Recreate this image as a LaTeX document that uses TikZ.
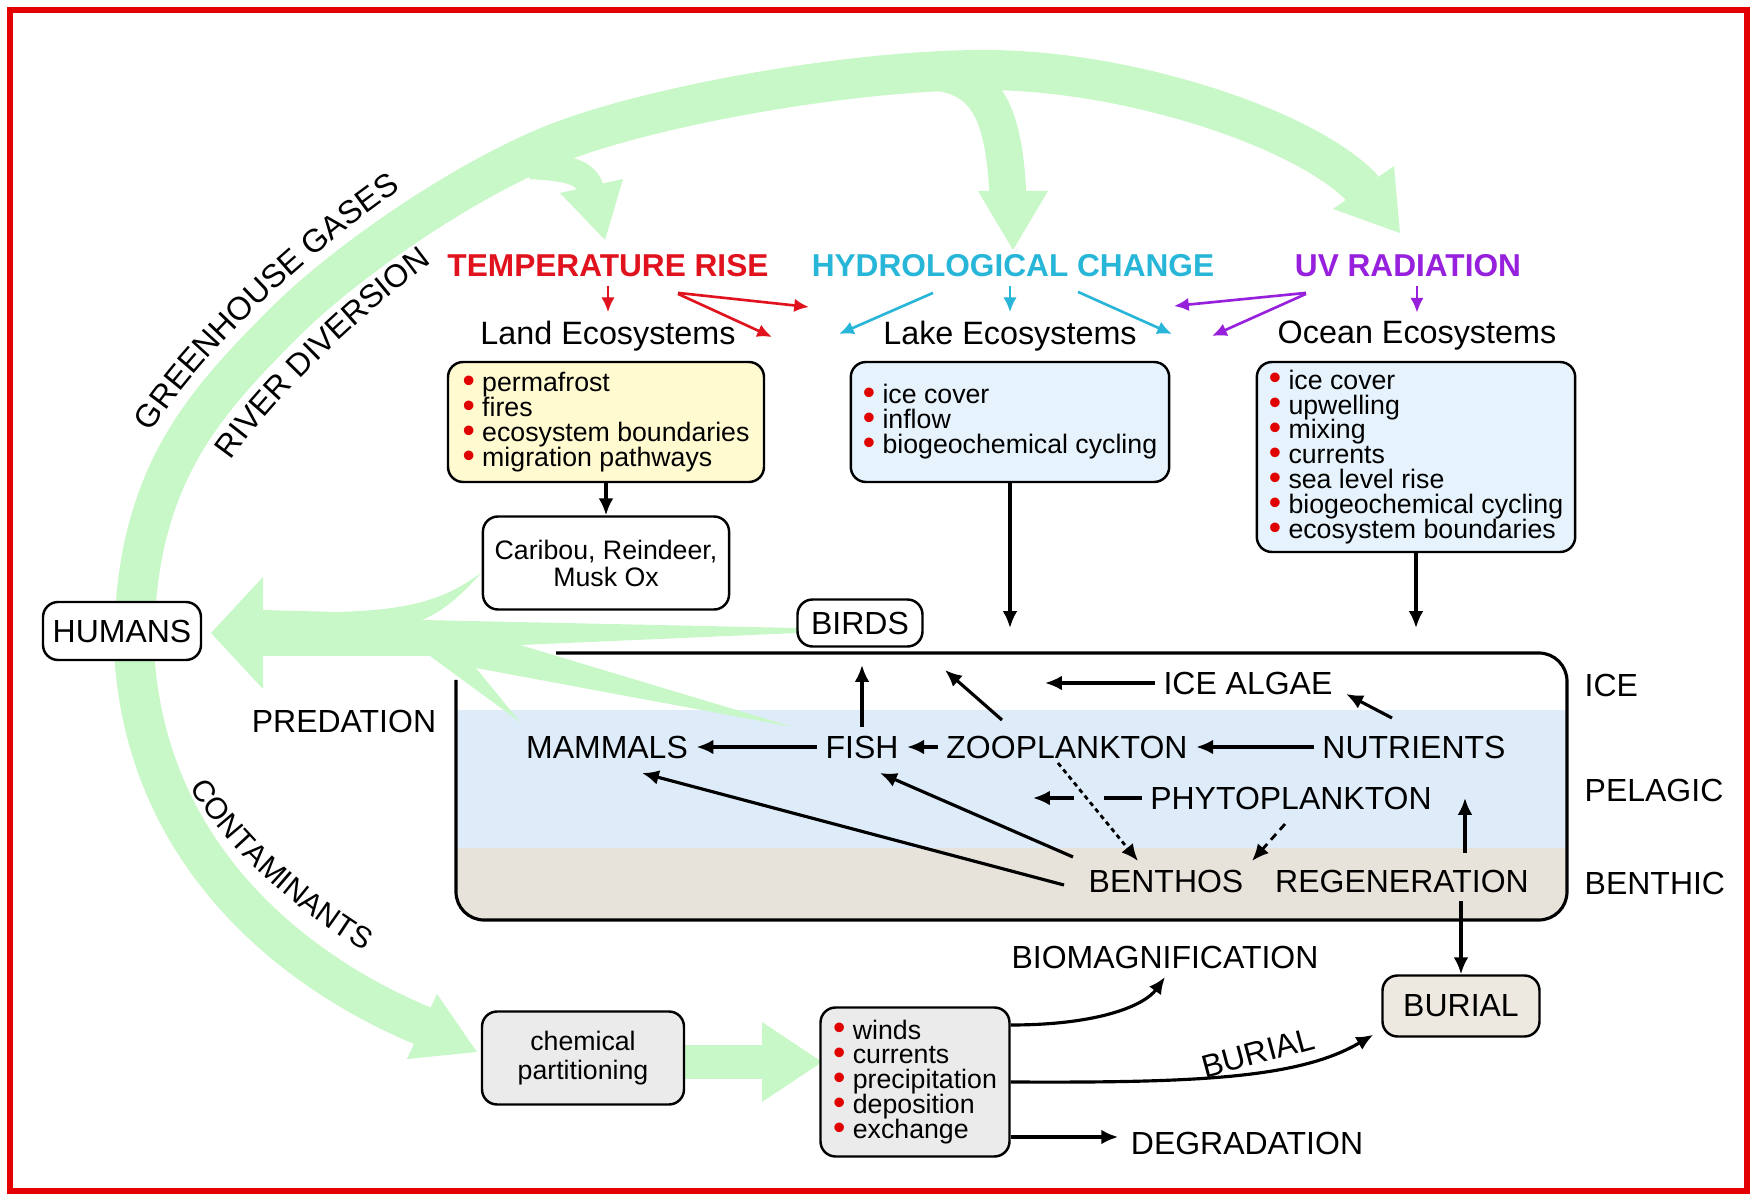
\documentclass[tikz,border=0pt]{standalone}
\usepackage{fontspec}
\setmainfont{Liberation Sans}
\usetikzlibrary{arrows.meta,calc,decorations.text}
\definecolor{bordred}{RGB}{228,0,0}
\definecolor{gr}{RGB}{200,247,200}
\definecolor{tred}{RGB}{224,18,30}
\definecolor{hcyan}{RGB}{40,182,216}
\definecolor{uvpur}{RGB}{150,32,220}
\definecolor{bulred}{RGB}{225,0,0}
\definecolor{landfill}{RGB}{255,250,208}
\definecolor{lakefill}{RGB}{230,243,252}
\definecolor{pelfill}{RGB}{222,236,250}
\definecolor{benfill}{RGB}{232,227,218}
\definecolor{grayfill}{RGB}{235,235,235}
\definecolor{burfill}{RGB}{237,233,225}
\newcommand{\redbul}{\textcolor{bulred}{\raisebox{-0.2pt}{\fontsize{10}{7}\selectfont\textbullet}}\ }
\begin{document}
\begin{tikzpicture}[x=0.1mm,y=-0.1mm,
  lab/.style={font=\fontsize{9.1}{10}\selectfont, inner sep=0.8mm},
  hdr/.style={font=\bfseries\fontsize{9}{10}\selectfont, inner sep=0.8mm},
  sublab/.style={font=\fontsize{9.2}{10}\selectfont, inner sep=0.8mm},
  rbox/.style={draw, line width=0.7pt, rounded corners=4.3pt},
  blist/.style={rbox, font=\fontsize{7.6}{7.1}\selectfont, align=left, inner xsep=1.2mm, inner ysep=0pt},
  arr/.style={line width=0.9pt, -{Latex[length=4.8pt,width=4.2pt]}},
  carr/.style={line width=0.75pt, -{Latex[length=4.2pt,width=3.8pt]}},
]
\useasboundingbox (0,0) rectangle (1755,1197);

% ---------- big green arc ----------
\draw[gr, line width=11.4pt] (423,1026) .. controls (300,975) and (145,860) .. (134,650)
  .. controls (134,480) and (200,407) .. (285,322)
  .. controls (345,262) and (470,175) .. (565,140)
  .. controls (660,105) and (850,70) .. (985,70)
  .. controls (1130,70) and (1310,130) .. (1364,190);
\draw[gr, line width=7.5pt] (530,166) .. controls (575,168) and (590,174) .. (592,196);
\draw[gr, line width=10.5pt] (935,72) .. controls (988,78) and (1004,115) .. (1008,196);
\fill[gr] (605,240) -- (623,179) -- (560,193) -- cycle;
\fill[gr] (1013,250) -- (978,191) -- (1048,191) -- cycle;
\fill[gr] (1400,233) -- (1333,209) -- (1394,166) -- cycle;
\fill[gr] (477,1052) -- (437,994) -- (407,1059) -- cycle;

% ---------- curved labels on the band ----------
\path[decorate, decoration={text along path, text align=center,
   text={|\fontsize{9.2}{10}\selectfont|GREENHOUSE GASES}}]
   (140,452) .. controls (180,372) and (310,247) .. (420,177);
\path[decorate, decoration={text along path, text align=center,
   text={|\fontsize{9.1}{10}\selectfont|RIVER DIVERSION}}]
   (210,495) .. controls (245,425) and (365,305) .. (465,240);
\path[decorate, decoration={text along path, text align=center,
   text={|\fontsize{8.6}{10}\selectfont|CONTAMINANTS}}]
   (165,718) .. controls (175,815) and (305,930) .. (430,985);

% ---------- ecosystem box ----------
\begin{scope}
\clip[rounded corners=8pt] (456,653) rectangle (1567,920);
\fill[white] (456,653) rectangle (1567,710);
\fill[pelfill] (456,710) rectangle (1567,848);
\fill[benfill] (456,848) rectangle (1567,920);
\end{scope}
\draw[line width=0.9pt, rounded corners=8pt] (556,653) -- (1567,653) -- (1567,920) -- (456,920) -- (456,680);

% ---------- predation green shape ----------
\fill[gr] (211,633) -- (263,577) -- (263,610) -- (337,612)
  .. controls (420,610) and (450,595) .. (481,573)
  .. controls (462,595) and (442,612) .. (422,620)
  -- (797,628) -- (797,633) -- (520,645)
  -- (793,727) -- (476,668)
  -- (520,722) -- (430,656)
  -- (263,656) -- (263,689) -- cycle;

% chem -> winds green arrow
\fill[gr] (680,1045) rectangle (765,1079);
\fill[gr] (822,1062) -- (762,1022) -- (762,1102) -- cycle;

% ---------- headers ----------
\node[hdr, text=tred] (temp) at (608,266) {TEMPERATURE RISE};
\node[hdr, text=hcyan] (hydro) at (1013,266) {HYDROLOGICAL CHANGE};
\node[hdr, text=uvpur] (uv) at (1408,266) {UV RADIATION};
\node[sublab] (landlbl) at (608,336) {Land Ecosystems};
\node[sublab] (lakelbl) at (1010,336) {Lake Ecosystems};
\node[sublab] (oceanlbl) at (1417,336) {Ocean Ecosystems};

\coordinate (t1) at (809,307);
\coordinate (t2) at (772,337);
\coordinate (h1) at (839,334);
\coordinate (h2) at (1172,334);
\coordinate (u1) at (1174,306);
\coordinate (u2) at (1212,336);
\draw[carr, tred] (temp.south) -- (landlbl.north);
\draw[carr, tred] ($(temp.south)+(70,7)$) -- (t1);
\draw[carr, tred] ($(temp.south)+(70,8)$) -- (t2);
\draw[carr, hcyan] (lakelbl.north |- hydro.south) -- (lakelbl.north);
\draw[carr, hcyan] ($(hydro.south)+(-80,7)$) -- (h1);
\draw[carr, hcyan] ($(hydro.south)+(65,6)$) -- (h2);
\draw[carr, uvpur] (oceanlbl.north |- uv.south) -- (oceanlbl.north);
\draw[carr, uvpur] ($(uv.south)+(-102,7)$) -- (u1);
\draw[carr, uvpur] ($(uv.south)+(-102,8)$) -- (u2);

% ---------- ecosystem boxes ----------
\node[blist, fill=landfill, minimum height=12mm, minimum width=31.6mm] (land) at (606,422)
  {\redbul permafrost\\ \redbul fires\\ \redbul ecosystem boundaries\\ \redbul migration pathways};
\node[blist, fill=lakefill, minimum height=12mm, minimum width=31.6mm] (lake) at (1010,422)
  {\redbul ice cover\\ \redbul inflow\\ \redbul biogeochemical cycling};
\node[blist, fill=lakefill, minimum height=19mm, minimum width=31.5mm] (ocean) at (1416,457)
  {\redbul ice cover\\ \redbul upwelling\\ \redbul mixing\\ \redbul currents\\ \redbul sea level rise\\ \redbul biogeochemical cycling\\ \redbul ecosystem boundaries};

\node[rbox, fill=white, align=center, font=\fontsize{7.6}{7.7}\selectfont, minimum width=24.3mm, minimum height=9.3mm] (caribou) at (606,563) {Caribou, Reindeer,\\Musk Ox};
\node[rbox, fill=white, lab, minimum width=15.8mm, minimum height=5.8mm] (humans) at (122,631) {HUMANS};
\node[rbox, fill=white, lab, minimum width=12.5mm, minimum height=4.7mm] (birds) at (860,623) {BIRDS};

\coordinate (lakedown) at (1010,628);
\coordinate (oceandown) at (1416,628);
\draw[arr] (land.south) -- (caribou.north);
\draw[arr] (lake.south) -- (lakedown);
\draw[arr] (ocean.south) -- (oceandown);

\node[lab] (predation) at (344,721) {PREDATION};

% ---------- inside ecosystem box ----------
\node[lab] (icealgae) at (1248,683) {ICE ALGAE};
\node[lab] (mammals) at (607,747) {MAMMALS};
\node[lab] (fish) at (862,747) {FISH};
\node[lab] (zoop) at (1067,747) {ZOOPLANKTON};
\node[lab] (nutrients) at (1414,747) {NUTRIENTS};
\node[lab] (phyto) at (1291,798) {PHYTOPLANKTON};
\node[lab] (benthos) at (1166,881) {BENTHOS};
\node[lab] (regen) at (1402,881) {REGENERATION};
\node[lab, anchor=west] (icelbl) at (1576,685) {ICE};
\node[lab, anchor=west] (pellbl) at (1576,790) {PELAGIC};
\node[lab, anchor=west] (benlbl) at (1576,883) {BENTHIC};

\coordinate (iaend) at (1045,683);
\coordinate (fishtop) at (862,665);
\coordinate (zuptip) at (945,670);
\coordinate (phytotip) at (1033,798);
\draw[arr] (icealgae.west) -- (iaend);
\draw[arr] ($(nutrients.north)+(-22,-9)$) -- ($(icealgae.south east)+(5,-9)$);
\draw[arr] (nutrients.west) -- (zoop.east);
\draw[arr] (zoop.west) -- (fish.east);
\draw[arr] (fish.west) -- (mammals.east);
\draw[arr] (fish.north) -- (fishtop);
\draw[arr] ($(zoop.north)+(-65,-7)$) -- (zuptip);
\draw[line width=0.9pt] (phyto.west) -- ++(-38,0);
\draw[arr] ($(phyto.west)+(-68,0)$) -- (phytotip);
\draw[line width=0.8pt, dash pattern=on 1.3pt off 1.1pt, -{Latex[length=4.8pt,width=4.2pt]}] ($(zoop.south)+(-9,-4)$) -- ($(benthos.north)+(-28,0)$);
\draw[line width=0.8pt, dash pattern=on 2.2pt off 1.6pt, -{Latex[length=4.8pt,width=4.2pt]}] ($(phyto.south)+(-6,6)$) -- (benthos.north east);
\draw[arr] ($(benthos.north west)+(-7,-4)$) -- ($(fish.south)+(18,6)$);
\draw[arr] ($(benthos.west)+(-16,4)$) -- ($(mammals.south)+(35,6)$);
\draw[arr] ($(regen.north)+(63,-8)$) -- ++(0,-55);

% ---------- bottom ----------
\node[rbox, fill=grayfill, align=center, font=\fontsize{7.6}{8.2}\selectfont, minimum width=20.2mm, minimum height=9.3mm] (chem) at (583,1058) {chemical\\partitioning};
\node[blist, fill=grayfill, minimum height=14.9mm, minimum width=18.9mm] (winds) at (915,1082)
  {\redbul winds\\ \redbul currents\\ \redbul precipitation\\ \redbul deposition\\ \redbul exchange};
\node[rbox, fill=burfill, lab, minimum width=15.7mm, minimum height=6.1mm] (burial) at (1461,1006) {BURIAL};
\node[lab] (biomag) at (1165,957) {BIOMAGNIFICATION};
\node[lab] (degr) at (1247,1143) {DEGRADATION};
\node[lab, rotate=15] (burlbl) at (1258,1053) {BURIAL};

\draw[arr] (regen.south -| burial.north) -- (burial.north);
\draw[arr] ($(winds.east)+(0,-57)$) .. controls (1100,1025) and (1145,1005) .. (biomag.south);
\draw[arr] (winds.east) .. controls (1200,1083) and (1300,1078) .. ($(burial.south west)+(-8,-3)$);
\draw[arr] ($(winds.east)+(0,55)$) -- ($(degr.west)+(-4,-6)$);

% ---------- frame ----------
\draw[bordred, line width=1.7pt] (10,10) rectangle (1747,1191);
\end{tikzpicture}
\end{document}
